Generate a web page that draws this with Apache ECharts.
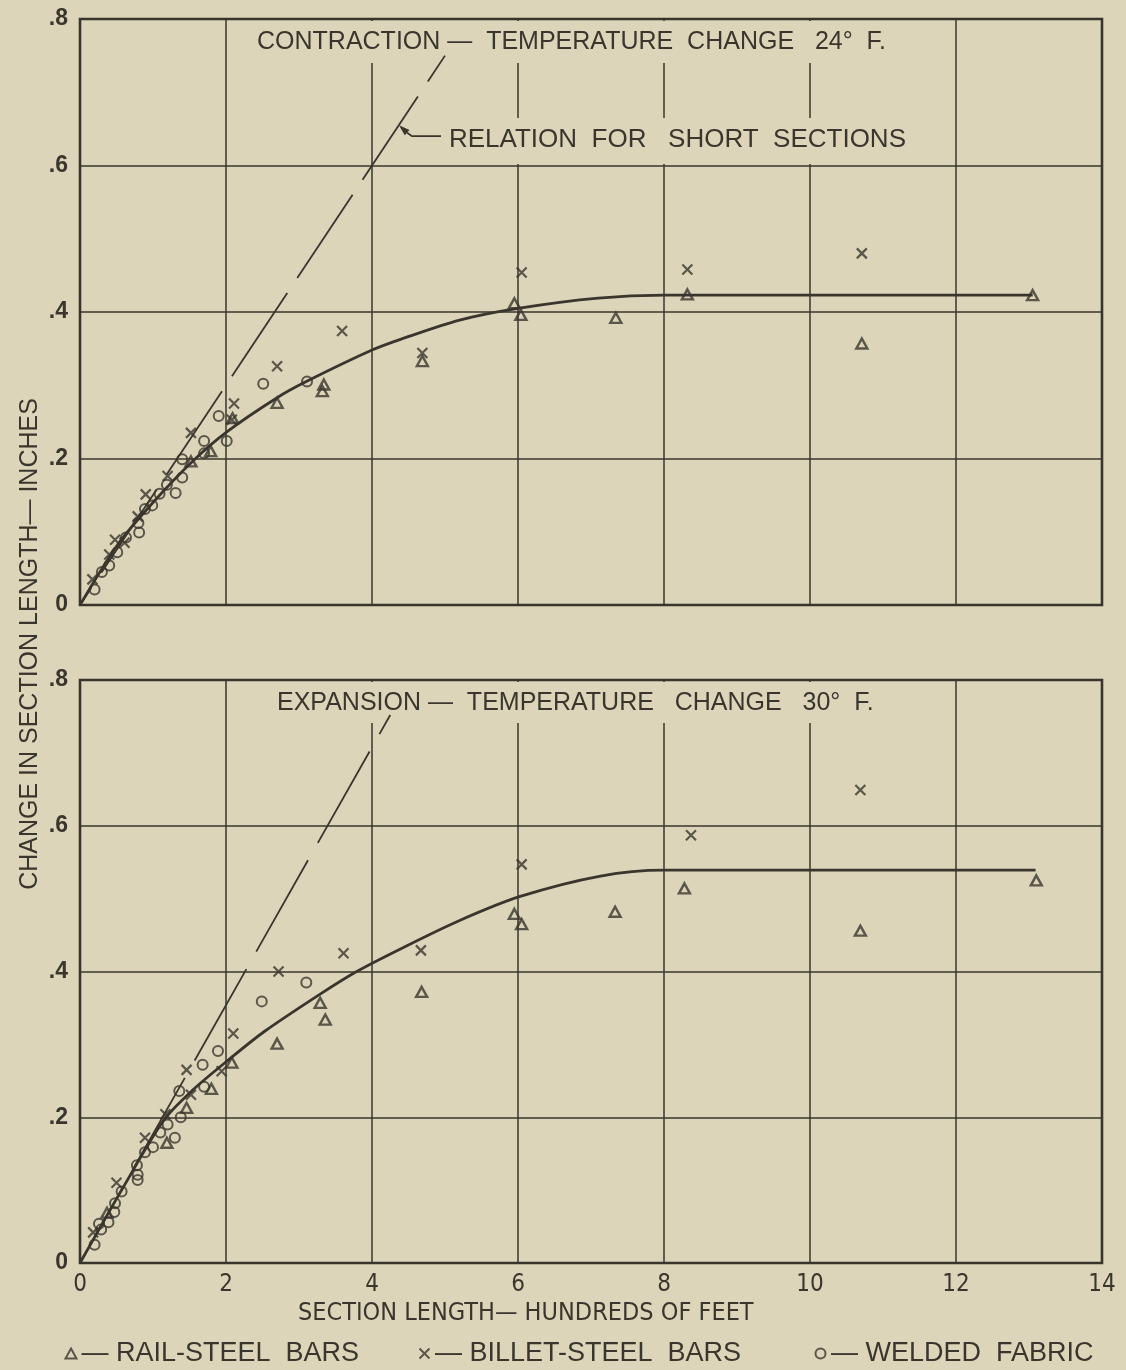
<!DOCTYPE html>
<html><head><meta charset="utf-8">
<script src="https://cdn.jsdelivr.net/npm/echarts@6/dist/echarts.min.js"></script>
<style>html,body{margin:0;padding:0;background:#dcd5b9}#c{width:1126px;height:1370px}</style>
</head><body><div id="c"></div>
<script>
// ---------- tick labels ----------
const xTickValues = [0, 2, 4, 6, 8, 10, 12, 14];
const xTickLabels = ['0', '2', '4', '6', '8', '10', '12', '14'];
const yTickValues = [0, 0.2, 0.4, 0.6, 0.8];
const yTickLabels = ['0', '.2', '.4', '.6', '.8'];

// ---------- texts ----------
const contractionTitle = 'CONTRACTION —  TEMPERATURE  CHANGE   24°  F.';
const expansionTitle = 'EXPANSION —  TEMPERATURE   CHANGE   30°  F.';
const relationLabel = 'RELATION  FOR   SHORT  SECTIONS';
const xAxisTitle = 'SECTION LENGTH— HUNDREDS OF FEET';
const yAxisTitle = 'CHANGE IN SECTION LENGTH— INCHES';
const seriesNames = ['RAIL-STEEL BARS', 'BILLET-STEEL BARS', 'WELDED FABRIC'];

// ---------- contraction (top) panel ----------
const contractionRail = [[1.52,0.196],[1.79,0.21],[2.09,0.255],[2.70,0.276],[3.32,0.292],[3.34,0.301],[4.69,0.333],[5.95,0.412],[6.04,0.396],[7.34,0.392],[8.32,0.424],[10.71,0.357],[13.05,0.423]];
const contractionBillet = [[0.17,0.035],[0.40,0.069],[0.48,0.089],[0.61,0.085],[0.79,0.121],[0.90,0.151],[1.20,0.176],[1.52,0.235],[2.08,0.253],[2.11,0.275],[2.70,0.326],[3.59,0.374],[4.69,0.344],[6.05,0.454],[8.32,0.458],[10.71,0.48]];
const contractionFabric = [[0.20,0.021],[0.30,0.045],[0.40,0.054],[0.51,0.072],[0.63,0.092],[0.81,0.099],[0.80,0.112],[0.89,0.131],[0.99,0.136],[1.09,0.152],[1.19,0.164],[1.31,0.153],[1.40,0.174],[1.40,0.199],[1.70,0.207],[1.70,0.224],[2.01,0.224],[1.90,0.258],[2.51,0.302],[3.11,0.305]];
const contractionCurve = [[0,0],[0.52,0.083],[1.0,0.14],[1.54,0.196],[2.02,0.237],[2.7,0.283],[3.1,0.305],[4.0,0.348],[4.4,0.363],[5.2,0.389],[6.0,0.405],[7.1,0.419],[8.0,0.423],[9.5,0.423],[13.05,0.423]];
const contractionRelation = [[5.0,0.75],[0,0]];
const relationPointer = [4.37, 0.655];

// ---------- expansion (bottom) panel ----------
const expansionRail = [[0.37,0.069],[1.19,0.165],[1.46,0.213],[1.80,0.239],[2.08,0.275],[2.70,0.301],[3.29,0.357],[3.36,0.334],[4.68,0.372],[5.95,0.479],[6.05,0.465],[7.33,0.482],[8.28,0.514],[10.69,0.456],[13.1,0.525]];
const expansionBillet = [[0.18,0.042],[0.50,0.11],[0.89,0.172],[1.17,0.204],[1.46,0.265],[1.52,0.231],[1.94,0.263],[2.10,0.315],[2.72,0.40],[3.61,0.425],[4.67,0.429],[6.05,0.547],[8.37,0.587],[10.69,0.649]];
const expansionFabric = [[0.20,0.025],[0.26,0.054],[0.29,0.046],[0.39,0.056],[0.47,0.07],[0.48,0.082],[0.57,0.098],[0.78,0.134],[0.79,0.121],[0.79,0.114],[0.89,0.152],[1.00,0.159],[1.10,0.179],[1.20,0.19],[1.30,0.172],[1.38,0.20],[1.36,0.236],[1.70,0.242],[1.68,0.272],[1.89,0.291],[2.49,0.359],[3.10,0.385]];
const expansionCurve = [[0,0],[0.57,0.1],[1.14,0.195],[1.53,0.236],[2.05,0.28],[2.53,0.318],[3.29,0.369],[3.79,0.40],[4.39,0.431],[5.2,0.47],[6.03,0.503],[7.13,0.531],[8.0,0.539],[9.5,0.539],[13.09,0.539]];
const expansionRelation = [[4.25,0.752],[0,0]];

// ---------- styling ----------
const BG = '#dcd5b9';
const INK = '#3a362d';
const FONT = '"Liberation Sans", Arial, sans-serif';
const NARROW = '"Liberation Sans Narrow", "DejaVu Sans Condensed", "Liberation Sans", sans-serif';

const chart = echarts.init(document.getElementById('c'), null, {renderer: 'canvas'});

const symbols = {
  'RAIL-STEEL BARS': {symbol: 'triangle', symbolSize: [11, 10], itemStyle: {color: 'none', borderColor: INK, borderWidth: 2.4}},
  'BILLET-STEEL BARS': {symbol: 'path://M0,0L10,10M10,0L0,10', symbolSize: 10, itemStyle: {color: 'none', borderColor: INK, borderWidth: 2.2}},
  'WELDED FABRIC': {symbol: 'circle', symbolSize: 10, itemStyle: {color: 'none', borderColor: INK, borderWidth: 2}}
};

function scatter(name, data, gi) {
  const s = symbols[name];
  return {name, type: 'scatter', xAxisIndex: gi, yAxisIndex: gi, data, symbol: s.symbol, symbolSize: s.symbolSize,
    itemStyle: s.itemStyle, emphasis: {disabled: true}, z: 3};
}
function curve(data, gi) {
  return {name: 'curve' + gi, type: 'line', xAxisIndex: gi, yAxisIndex: gi, data, smooth: 0.3,
    showSymbol: false, symbol: 'none', lineStyle: {color: INK, width: 2.8}, emphasis: {disabled: true}, z: 2};
}
function relation(data, gi, dash, offset) {
  return {name: 'relation' + gi, type: 'line', xAxisIndex: gi, yAxisIndex: gi, data, symbol: 'none',
    lineStyle: {color: INK, width: 1.8, type: dash, dashOffset: offset}, emphasis: {disabled: true}, z: 2};
}

function xAxis(gi, showLabels) {
  return {type: 'value', gridIndex: gi, min: 0, max: 14, interval: 2,
    axisLine: {show: false}, axisTick: {show: false},
    splitLine: {show: true, lineStyle: {color: INK, width: 1.5}},
    axisLabel: {show: showLabels, margin: 10, color: INK, fontFamily: NARROW, fontSize: 24,
      formatter: v => xTickLabels[xTickValues.indexOf(Math.round(v))] || ''}};
}
function yAxis(gi) {
  return {type: 'value', gridIndex: gi, min: 0, max: 0.8, interval: 0.2,
    axisLine: {show: false}, axisTick: {show: false},
    splitLine: {show: true, lineStyle: {color: INK, width: 1.5}},
    axisLabel: {margin: 12, color: INK, fontFamily: FONT, fontSize: 23, fontWeight: 'bold',
      formatter: v => {const i = yTickValues.findIndex(t => Math.abs(t - v) < 1e-6); return i >= 0 ? yTickLabels[i] : '';}}};
}

function legendFor(name, left) {
  return {data: [name], left, top: 1335, itemWidth: 11, itemHeight: 10, itemGap: 0,
    icon: symbols[name].symbol,
    itemStyle: {color: 'none', borderColor: INK, borderWidth: 2},
    textStyle: {color: INK, fontFamily: FONT, fontSize: 27},
    formatter: n => '— ' + n.replace(' ', '  '), selectedMode: false};
}

const option = {
  backgroundColor: BG,
  animation: false,
  grid: [
    {left: 80, top: 19, width: 1022, height: 586, show: true, borderColor: INK, borderWidth: 2.6, backgroundColor: 'transparent'},
    {left: 80, top: 680, width: 1022, height: 583, show: true, borderColor: INK, borderWidth: 2.6, backgroundColor: 'transparent'}
  ],
  xAxis: [xAxis(0, false), xAxis(1, true)],
  yAxis: [yAxis(0), yAxis(1)],
  legend: [legendFor(seriesNames[0], 58), legendFor(seriesNames[1], 412), legendFor(seriesNames[2], 808)],
  series: [
    curve(contractionCurve, 0),
    relation(contractionRelation, 0, [100, 18], 69),
    scatter(seriesNames[0], contractionRail, 0),
    scatter(seriesNames[1], contractionBillet, 0),
    scatter(seriesNames[2], contractionFabric, 0),
    curve(expansionCurve, 1),
    relation(expansionRelation, 1, [105, 20], 83),
    scatter(seriesNames[0], expansionRail, 1),
    scatter(seriesNames[1], expansionBillet, 1),
    scatter(seriesNames[2], expansionFabric, 1)
  ]
};
chart.setOption(option);

// ---------- annotations (text, masks behind titles, pointer) ----------
const tip = chart.convertToPixel({gridIndex: 0}, relationPointer);
const ux = -0.735, uy = -0.678; // pointer direction toward line
const bx = tip[0] - 11 * ux, by = tip[1] - 11 * uy;
const px = 3.5 * -uy, py = 3.5 * ux;
const elbow = [tip[0] + 13, tip[1] + 11];

const textStyle = (txt, font, size) => ({text: txt, fill: INK, font: `${size}px ${font}`, verticalAlign: 'middle'});

chart.setOption({
  graphic: [
    {type: 'rect', z: 1, shape: {x: 250, y: 21, width: 645, height: 42}, style: {fill: BG}},
    {type: 'rect', z: 1, shape: {x: 444, y: 118, width: 468, height: 46}, style: {fill: BG}},
    {type: 'rect', z: 1, shape: {x: 270, y: 682, width: 625, height: 41}, style: {fill: BG}},
    {type: 'text', z: 5, x: 257, y: 42, style: textStyle(contractionTitle, FONT, 25)},
    {type: 'text', z: 5, x: 449, y: 140, style: textStyle(relationLabel, FONT, 26)},
    {type: 'text', z: 5, x: 277, y: 703, style: textStyle(expansionTitle, FONT, 25)},
    {type: 'text', z: 5, x: 298, y: 1313, style: textStyle(xAxisTitle, NARROW, 25)},
    {type: 'text', z: 5, x: 30, y: 644, rotation: Math.PI / 2,
      style: Object.assign(textStyle(yAxisTitle, FONT, 25), {align: 'center'})},
    {type: 'polyline', z: 5, shape: {points: [[bx, by], elbow, [elbow[0] + 29, elbow[1]]]}, style: {stroke: INK, lineWidth: 1.8, fill: null}},
    {type: 'polygon', z: 5, shape: {points: [tip, [bx + px, by + py], [bx - px, by - py]]}, style: {fill: INK}}
  ]
});
</script>
</body></html>
